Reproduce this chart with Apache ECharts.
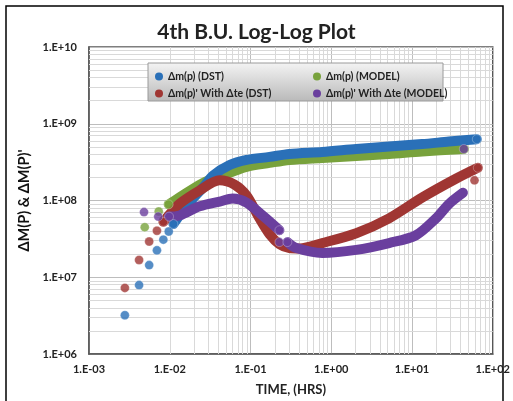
<!DOCTYPE html>
<html>
<head>
<meta charset="utf-8">
<script src="https://cdn.jsdelivr.net/npm/echarts@6/dist/echarts.min.js"></script>
<style>
html, body { margin: 0; padding: 0; background: #fff; }
#chart { width: 513px; height: 401px; }
</style>
</head>
<body>
<div id="chart"></div>
<script>
// [time (hrs), value]; "Dots" are the separate early markers, "Band" the dense run of points
var dstDmpDots = [[0.00278, 3.2e6], [0.00417, 7.9e6], [0.00556, 1.44e7], [0.00694, 2.24e7], [0.00833, 3.09e7], [0.00972, 3.94e7], [0.0111, 4.94e7], [63.4, 6.3e8]];
var dstDmpBand = [[0.0111, 4.94e7], [0.0133, 6.5e7], [0.0192, 1.05e8], [0.027, 1.55e8], [0.034, 2.1e8], [0.0551, 2.9e8], [0.0893, 3.38e8], [0.172, 3.7e8], [0.303, 4.04e8], [0.774, 4.29e8], [2.04, 4.69e8], [5.2, 5.05e8], [13.3, 5.43e8], [28.6, 5.86e8], [63.4, 6.3e8]];

var modelDmpDots = [[0.0049, 4.49e7], [0.0073, 7.2e7], [0.0097, 8.9e7]];
var modelDmpBand = [[0.0097, 8.9e7], [0.0133, 1.1e8], [0.0234, 1.6e8], [0.034, 1.92e8], [0.0551, 2.3e8], [0.0893, 2.75e8], [0.172, 3.09e8], [0.303, 3.38e8], [0.774, 3.59e8], [2.04, 3.81e8], [5.2, 4.04e8], [13.3, 4.36e8], [43.8, 4.69e8]];

var dstDerivDots = [[0.00278, 7.26e6], [0.00417, 1.68e7], [0.00556, 2.92e7], [0.00694, 4.04e7], [0.00833, 5.28e7], [59.4, 1.83e8], [65.3, 2.67e8]];
var dstDerivBand = [[0.00833, 5.28e7], [0.00972, 6.4e7], [0.0133, 9.1e7], [0.0234, 1.35e8], [0.0414, 1.83e8], [0.0634, 1.61e8], [0.0893, 1.16e8], [0.129, 5.86e7], [0.172, 3.64e7], [0.228, 2.7e7], [0.303, 2.4e7], [0.403, 2.37e7], [0.774, 2.79e7], [2.04, 3.75e7], [5.2, 5.86e7], [13.3, 1.09e8], [34.9, 1.92e8], [65.3, 2.67e8]];

var modelDerivDots = [[0.0048, 7.07e7], [0.0072, 6.17e7], [0.0098, 6.17e7], [0.228, 4.1e7], [0.228, 2.87e7], [0.286, 2.87e7], [43.8, 4.69e8]];
var modelDerivBandA = [[0.0098, 6.17e7], [0.0133, 6.4e7], [0.0234, 8.4e7], [0.0414, 9.7e7], [0.06, 1.06e8], [0.0893, 9.4e7], [0.1406, 6.4e7], [0.228, 4.1e7]];
var modelDerivBandB = [[0.286, 2.87e7], [0.37, 2.4e7], [0.774, 2.07e7], [2.04, 2.27e7], [5.2, 2.79e7], [11.2, 3.53e7], [19.8, 5.86e7], [28.6, 9.0e7], [42.7, 1.26e8]];

var names = ["Δm(p) (DST)", "Δm(p) (MODEL)", "Δm(p)' With Δte (DST)", "Δm(p)' With Δte (MODEL)"];
var colors = ["#2a70b8", "#78a23c", "#a03633", "#6a3f9e"];

var FONT = "Lato";

function expLabel(v) {
    var e = Math.round(Math.log10(v));
    var s = Math.abs(e) < 10 ? "0" + Math.abs(e) : "" + Math.abs(e);
    return "1.E" + (e < 0 ? "-" : "+") + s;
}

// minor log grid lines (2..9 in every decade)
var minorX = [], minorY = [];
for (var d = -3; d < 2; d++) for (var k = 2; k < 10; k++) minorX.push({ xAxis: k * Math.pow(10, d) });
for (var d2 = 6; d2 < 10; d2++) for (var k2 = 2; k2 < 10; k2++) minorY.push({ yAxis: k2 * Math.pow(10, d2) });

function band(name, color, data) {
    return {
        name: name, type: "line", data: data, z: 3,
        showSymbol: false, symbol: "circle", smooth: 0.3,
        itemStyle: { color: color },
        lineStyle: { color: color, width: 10, cap: "round", join: "round" },
        silent: true, animation: false,
    };
}
function dots(name, color, data) {
    return {
        name: name, type: "scatter", data: data, z: 4,
        symbol: "circle", symbolSize: 9,
        itemStyle: { color: color, borderColor: "rgba(255,255,255,0.35)", borderWidth: 1 },
        silent: true, animation: false,
    };
}

var legendText = { fontFamily: FONT, fontSize: 10.5, fontWeight: "bold", color: "#222" };

var myChart = echarts.init(document.getElementById("chart"));
var option = {
    backgroundColor: "#fff",
    animation: false,
    title: {
        text: "4th B.U. Log-Log Plot",
        left: "center", top: 17,
        textStyle: { fontFamily: FONT, fontSize: 21, fontWeight: "bold", color: "#222" },
    },
    legend: [
        {
            data: [names[0], names[2]], orient: "vertical", left: 150, top: 66, z: 11,
            itemGap: 6, itemWidth: 8, itemHeight: 8, icon: "circle", selectedMode: false,
            textStyle: legendText,
        },
        {
            data: [names[1], names[3]], orient: "vertical", left: 308, top: 66, z: 11,
            itemGap: 6, itemWidth: 8, itemHeight: 8, icon: "circle", selectedMode: false,
            textStyle: legendText,
        },
    ],
    graphic: [
        {
            type: "rect", z: 10, silent: true,
            shape: { x: 148, y: 63, width: 295, height: 38 },
            style: {
                fill: new echarts.graphic.LinearGradient(0, 0, 0, 1, [
                    { offset: 0, color: "#f4f4f4" },
                    { offset: 1, color: "#b9b9b9" },
                ]),
                stroke: "#9a9a9a", lineWidth: 1,
            },
        },
        {
            type: "rect", z: 0, silent: true,
            shape: { x: 6, y: 6, width: 497, height: 410 },
            style: { fill: "none", stroke: "#000", lineWidth: 1.5 },
        },
    ],
    grid: { left: 89, top: 47, width: 405, height: 310, show: true, borderColor: "#555", borderWidth: 1.5, backgroundColor: "transparent" },
    xAxis: {
        type: "log", logBase: 10, min: 0.001, max: 100,
        name: "TIME, (HRS)", nameLocation: "middle", nameGap: 29,
        nameTextStyle: { fontFamily: FONT, fontSize: 13, fontWeight: "bold", color: "#222" },
        axisLine: { lineStyle: { color: "#555", width: 1.5 } },
        axisTick: { show: false },
        axisLabel: { formatter: expLabel, margin: 10, fontFamily: FONT, fontSize: 11, fontWeight: "bold", color: "#222" },
        splitLine: { show: true, lineStyle: { color: "#bdbdbd", width: 1 } },
    },
    yAxis: {
        type: "log", logBase: 10, min: 1e6, max: 1e10,
        name: "ΔM(P) & ΔM(P)'", nameLocation: "middle", nameGap: 53,
        nameTextStyle: { fontFamily: FONT, fontSize: 14.5, fontWeight: "bold", color: "#111" },
        axisLine: { lineStyle: { color: "#555", width: 1.5 } },
        axisTick: { show: false },
        axisLabel: { formatter: expLabel, margin: 12, fontFamily: FONT, fontSize: 11, fontWeight: "bold", color: "#222" },
        splitLine: { show: true, lineStyle: { color: "#bdbdbd", width: 1 } },
    },
    series: [
        {
            type: "scatter", data: [], z: 1, silent: true,
            markLine: {
                z: 1, silent: true, symbol: ["none", "none"], label: { show: false }, animation: false,
                lineStyle: { color: "#d9d9d9", width: 1, type: "solid" },
                data: minorX.concat(minorY),
            },
        },
        band(names[1], colors[1], modelDmpBand),
        band(names[0], colors[0], dstDmpBand),
        band(names[2], colors[2], dstDerivBand),
        band(names[3], colors[3], modelDerivBandA),
        band(names[3], colors[3], modelDerivBandB),
        dots(names[0], colors[0], dstDmpDots),
        dots(names[1], colors[1], modelDmpDots),
        dots(names[2], colors[2], dstDerivDots),
        dots(names[3], colors[3], modelDerivDots),
    ],
};
myChart.setOption(option);
window.onresize = function () { myChart.resize(); };
</script>
</body>
</html>
